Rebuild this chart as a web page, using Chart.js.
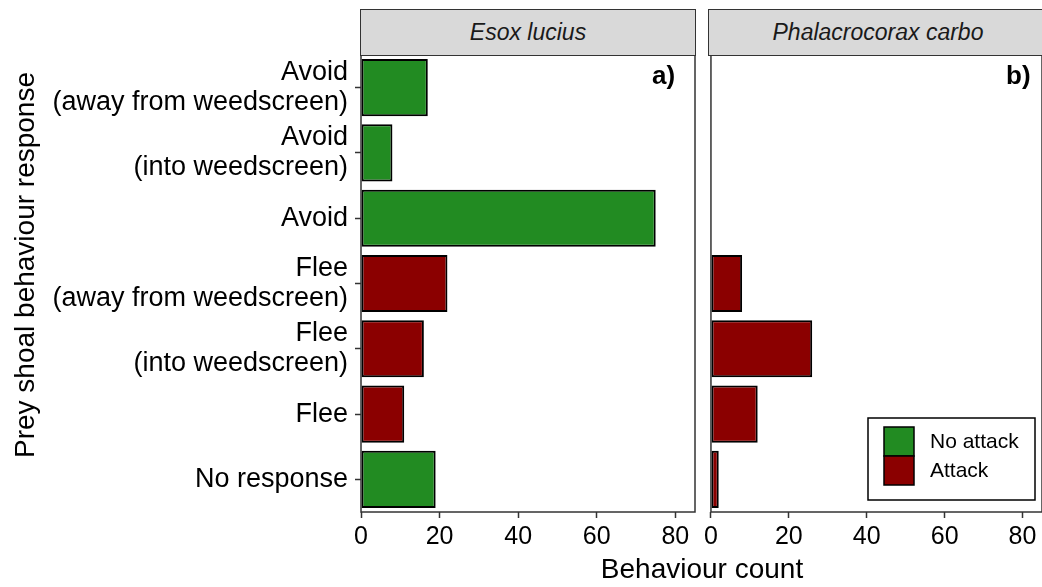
<!DOCTYPE html>
<html>
<head>
<meta charset="utf-8">
<script src="https://cdn.jsdelivr.net/npm/chart.js@4"></script>
<style>
  body { margin: 0; background: #fff; font-family: "Liberation Sans", Arial, sans-serif; }
  #wrap { position: relative; width: 1042px; height: 587px; overflow: hidden; }
  .box { position: absolute; top: 0; height: 587px; }
  .strip { position: absolute; top: 9px; height: 47px; box-sizing: border-box; background: #d9d9d9;
           border: 1.5px solid #333; font-style: italic; font-size: 23px; color: #1a1a1a;
           display: flex; align-items: center; justify-content: center; }
  .tag { position: absolute; top: 60px; font-weight: bold; font-size: 26px; color: #000; }
  #xtitle { position: absolute; left: 502px; width: 400px; top: 555px; line-height: 28px;
            text-align: center; font-size: 28px; color: #000; }
  #ytitle { position: absolute; left: -225px; top: 249px; width: 500px; line-height: 32px;
            text-align: center; font-size: 28px; color: #000; transform: rotate(-90deg); }
</style>
</head>
<body>
<div id="wrap">
  <div class="box" style="left:0; width:700px;"><canvas id="esox"></canvas></div>
  <div class="box" style="left:700px; width:342px;"><canvas id="carbo"></canvas></div>
  <div class="strip" style="left:360px; width:336px;">Esox lucius</div>
  <div class="strip" style="left:708px; width:340px;">Phalacrocorax carbo</div>
  <div class="tag" style="left:652px;">a)</div>
  <div class="tag" style="left:1006px;">b)</div>
  <div id="xtitle">Behaviour count</div>
  <div id="ytitle">Prey shoal behaviour response</div>
</div>
<script>
const categories = [
  ['Avoid', '(away from weedscreen)'],
  ['Avoid', '(into weedscreen)'],
  'Avoid',
  ['Flee', '(away from weedscreen)'],
  ['Flee', '(into weedscreen)'],
  'Flee',
  'No response'
];
const esoxNoAttack = [17, 8, 75, null, null, null, 19];
const esoxAttack = [null, null, null, 22, 16, 11, null];
const carboNoAttack = [null, null, null, null, null, null, null];
const carboAttack = [null, null, null, 8, 26, 12, 2];
const xTicks = [0, 20, 40, 60, 80];

const green = '#228B22';
const red = '#8B0000';
const fontFamily = '"Liberation Sans", Arial, sans-serif';

// box round each panel, like the ggplot panel border
const panelBorder = {
  id: 'panelBorder',
  afterDatasetsDraw(chart) {
    const a = chart.chartArea, ctx = chart.ctx;
    ctx.save();
    ctx.strokeStyle = '#333';
    ctx.lineWidth = 1.5;
    ctx.strokeRect(a.left, a.top, a.right - a.left, a.bottom - a.top);
    ctx.restore();
  }
};

// legend sitting inside the bottom right of the second panel
const insideLegend = {
  id: 'insideLegend',
  afterDraw(chart) {
    const a = chart.chartArea, ctx = chart.ctx;
    const bx = a.right - 174, by = a.bottom - 94;
    ctx.save();
    ctx.strokeStyle = '#000';
    ctx.lineWidth = 1.5;
    ctx.strokeRect(bx, by, 167, 82);
    ctx.font = '21px ' + fontFamily;
    ctx.textBaseline = 'middle';
    chart.data.datasets.forEach((ds, i) => {
      const ky = by + 9 + i * 29;
      ctx.fillStyle = ds.backgroundColor;
      ctx.fillRect(bx + 16, ky, 30, 29);
      ctx.strokeStyle = '#000';
      ctx.strokeRect(bx + 16, ky, 30, 29);
      ctx.fillStyle = '#000';
      ctx.fillText(ds.label, bx + 62, ky + 15);
    });
    ctx.restore();
  }
};

function makeChart(id, noAttack, attack, showY, pad, extraPlugins) {
  const barStyle = { borderColor: '#000', borderWidth: 2, borderSkipped: false,
                     categoryPercentage: 0.875, barPercentage: 1 };
  return new Chart(document.getElementById(id), {
    type: 'bar',
    data: {
      labels: categories,
      datasets: [
        Object.assign({ label: 'No attack', data: noAttack, backgroundColor: green }, barStyle),
        Object.assign({ label: 'Attack', data: attack, backgroundColor: red }, barStyle)
      ]
    },
    options: {
      indexAxis: 'y',
      responsive: true,
      maintainAspectRatio: false,
      animation: false,
      layout: { padding: pad },
      plugins: { legend: { display: false }, tooltip: { enabled: false } },
      scales: {
        x: {
          stacked: true,
          min: 0,
          max: 85,
          afterBuildTicks: s => { s.ticks = xTicks.map(v => ({ value: v })); },
          afterFit: s => { s.height = 75; },
          grid: { drawOnChartArea: false, drawTicks: true, tickLength: 6, tickColor: '#333', tickWidth: 1.5 },
          border: { display: false },
          ticks: { color: '#000', font: { size: 25, family: fontFamily }, padding: 4, maxRotation: 0 }
        },
        y: {
          stacked: true,
          display: showY,
          afterFit: s => { if (showY) s.width = 361; },
          grid: { offset: false, drawOnChartArea: false, drawTicks: true, tickLength: 6, tickColor: '#333', tickWidth: 1.5 },
          border: { display: false },
          ticks: { color: '#000', font: { size: 27, family: fontFamily, lineHeight: 1.11 }, padding: 7 }
        }
      }
    },
    plugins: [panelBorder].concat(extraPlugins)
  });
}

makeChart('esox', esoxNoAttack, esoxAttack, true, { top: 55, right: 5, left: 0, bottom: 0 }, []);
makeChart('carbo', carboNoAttack, carboAttack, false, { top: 55, right: 0, left: 9, bottom: 0 }, [insideLegend]);
</script>
</body>
</html>
